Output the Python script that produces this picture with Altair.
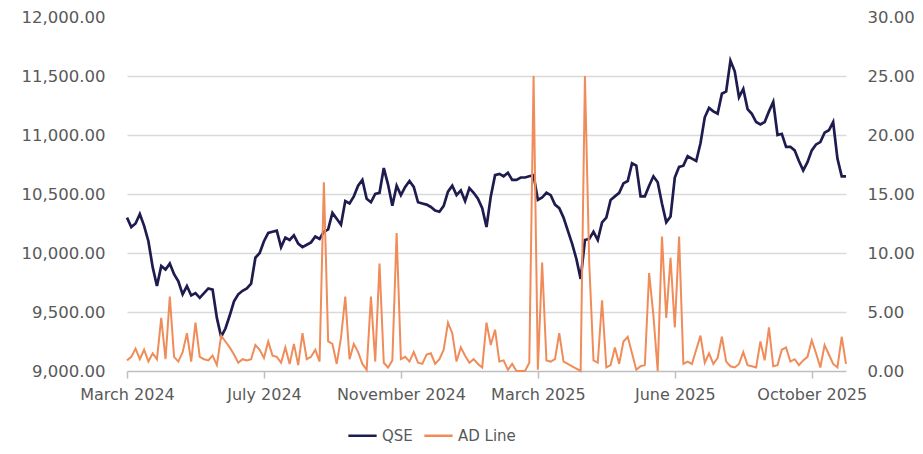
import altair as alt
import pandas as pd

# QSE index level, one value per trading-day step (left axis)
qse = [10300, 10220, 10250, 10330, 10230, 10100, 9880, 9720, 9890, 9860,
       9910, 9820, 9760, 9650, 9720, 9640, 9660, 9620, 9660, 9700,
       9690, 9450, 9290, 9360, 9470, 9590, 9650, 9680, 9700, 9740,
       9960, 10000, 10100, 10170, 10180, 10190, 10050, 10130, 10110, 10150,
       10080, 10050, 10070, 10090, 10140, 10120, 10180, 10200, 10340, 10290,
       10240, 10440, 10420, 10480, 10570, 10620, 10460, 10430, 10500, 10510,
       10720, 10580, 10400, 10570, 10490, 10560, 10610, 10560, 10430, 10420,
       10410, 10390, 10360, 10350, 10400, 10520, 10570, 10490, 10530, 10440,
       10550, 10510, 10460, 10380, 10220, 10480, 10660, 10670, 10650, 10680,
       10620, 10620, 10640, 10640, 10650, 10660, 10450, 10470, 10510, 10490,
       10410, 10380, 10300, 10190, 10080, 9950, 9780, 10110, 10120, 10180,
       10110, 10260, 10300, 10450, 10480, 10510, 10590, 10610, 10760, 10740,
       10480, 10480, 10570, 10650, 10600, 10420, 10260, 10310, 10640, 10730,
       10740, 10820, 10800, 10780, 10930, 11150, 11230, 11200, 11180, 11350,
       11370, 11630, 11540, 11320, 11390, 11220, 11180, 11110, 11090, 11110,
       11200, 11280, 11000, 11010, 10900, 10900, 10870, 10780, 10700, 10770,
       10870, 10920, 10940, 11020, 11040, 11110, 10800, 10650, 10650]

# Advance/Decline line (right axis)
ad_line = [0.9, 1.2, 1.9, 1.0, 1.8, 0.8, 1.5, 1.0, 4.5, 1.0,
           6.3, 1.2, 0.8, 1.6, 3.2, 0.8, 4.1, 1.2, 1.0, 0.9,
           1.3, 0.5, 3.0, 2.5, 2.0, 1.4, 0.7, 1.0, 0.9, 1.0,
           2.2, 1.8, 1.1, 2.5, 1.3, 1.2, 0.7, 2.0, 0.6, 2.3,
           0.5, 3.2, 1.0, 1.2, 1.8, 0.8, 16.0, 2.5, 2.3, 0.6,
           2.8, 6.3, 1.0, 2.3, 1.6, 0.6, 0.1, 6.3, 0.8, 9.1,
           0.7, 0.3, 0.9, 11.7, 1.0, 1.2, 0.8, 1.6, 0.7, 0.6,
           1.4, 1.5, 0.6, 1.0, 1.8, 4.1, 3.2, 0.8, 2.0, 1.3,
           0.7, 1.0, 0.6, 0.3, 4.1, 2.2, 3.5, 0.8, 0.9, 0.1,
           0.6, 0.0, 0.0, 0.0, 0.7, 25.0, 0.1, 9.2, 0.9, 0.8,
           1.0, 3.2, 0.8, 0.6, 0.4, 0.2, 0.0, 25.0, 9.2, 0.9,
           0.7, 6.0, 0.3, 0.5, 2.0, 0.6, 2.5, 2.9, 1.5, 0.1,
           0.4, 0.5, 8.3, 4.7, 0.0, 11.4, 4.5, 9.6, 3.7, 11.4,
           0.6, 0.8, 0.6, 1.8, 3.0, 0.7, 1.5, 0.6, 1.1, 2.9,
           0.8, 0.4, 0.3, 0.6, 1.6, 0.5, 0.4, 0.3, 2.5, 0.9,
           3.7, 0.4, 0.5, 1.8, 2.0, 0.8, 1.0, 0.5, 0.9, 1.2,
           2.6, 1.5, 0.3, 2.2, 1.4, 0.6, 0.3, 2.9, 0.6]

tick_labels = ["March 2024", "July 2024", "November 2024", "March 2025",
               "June 2025", "October 2025"]
tick_positions = [0, 32, 64, 96, 128, 160]
series_names = ["QSE", "AD Line"]
series_colors = ["#1E1B4F", "#F08C5A"]
left_ticks = [9000, 9500, 10000, 10500, 11000, 11500, 12000]
right_ticks = [0, 5, 10, 15, 20, 25, 30]

df = pd.DataFrame({"idx": list(range(len(qse))), "qse": qse, "ad": ad_line})

FONT = "DejaVu Sans"
GREY = "#595959"
n_last = len(qse) - 1

label_expr = "[" + ",".join("'" + t + "'" for t in tick_labels) + "][round(datum.value / 32)]"

x_enc = alt.X(
    "idx:Q",
    scale=alt.Scale(domain=[0, n_last], nice=False, zero=False),
    axis=alt.Axis(
        values=tick_positions, labelExpr=label_expr, title=None, grid=False,
        domainColor="#BFBFBF", domainWidth=1.5, tickColor="#BFBFBF",
        tickWidth=1.5, tickSize=7, labelPadding=8, labelFont=FONT,
        labelFontSize=16, labelColor=GREY, labelOverlap=False,
        labelFlush=False, labelBound=False,
    ),
)

color_scale = alt.Scale(domain=series_names, range=series_colors)

qse_layer = (
    alt.Chart(df)
    .transform_calculate(series="'QSE'")
    .mark_line(strokeWidth=2.7)
    .encode(
        x=x_enc,
        y=alt.Y(
            "qse:Q",
            scale=alt.Scale(domain=[9000, 12000], nice=False, zero=False),
            axis=alt.Axis(
                values=left_ticks, format=",.2f", title=None, orient="left",
                domain=False, ticks=False, labelPadding=22, labelFont=FONT,
                labelFontSize=16.5, labelColor=GREY, grid=True,
                gridColor="#D9D9D9", gridWidth=1.5,
                gridOpacity={"condition": {"test": "datum.value >= 12000 || datum.value <= 9000", "value": 0}, "value": 1},
            ),
        ),
        color=alt.Color("series:N", scale=color_scale, title=None),
    )
)

ad_layer = (
    alt.Chart(df)
    .transform_calculate(series="'AD Line'")
    .mark_line(strokeWidth=2)
    .encode(
        x=x_enc,
        y=alt.Y(
            "ad:Q",
            scale=alt.Scale(domain=[0, 30], nice=False, zero=False),
            axis=alt.Axis(
                values=right_ticks, format=".2f", title=None, orient="right",
                domain=False, ticks=False, labelPadding=21, labelFont=FONT,
                labelFontSize=16.5, labelColor=GREY, grid=False,
            ),
        ),
        color=alt.Color("series:N", scale=color_scale, title=None),
    )
)

chart = (
    alt.layer(qse_layer, ad_layer)
    .resolve_scale(y="independent")
    .properties(
        width=719, height=354,
        autosize=alt.AutoSizeParams(type="none"),
        padding={"left": 119, "top": 9, "right": 69, "bottom": 80},
    )
    .configure_view(stroke=None)
    .configure_legend(
        orient="none", legendX=220, legendY=403, direction="horizontal",
        symbolType="stroke", symbolSize=800, symbolStrokeWidth=2.5,
        labelFont=FONT, labelFontSize=15, labelColor=GREY,
        columnPadding=6, labelOffset=4,
    )
)

chart.save("out.html", embed_options={"renderer": "svg", "actions": False})
